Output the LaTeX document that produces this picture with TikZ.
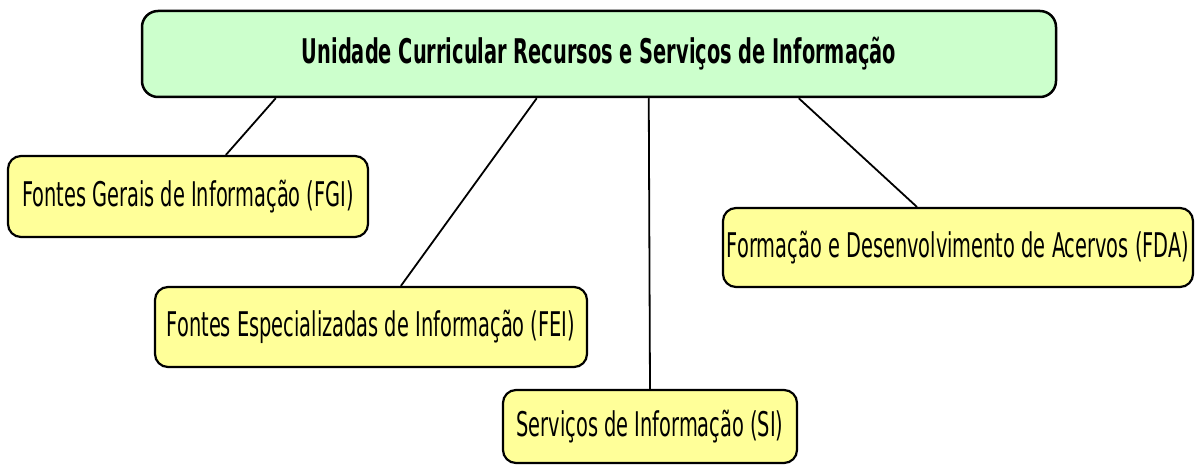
\documentclass[tikz,border=0pt]{standalone}
\usepackage{fontspec}
\newfontfamily\cond[FakeStretch=0.57]{DejaVu Sans}
\newfontfamily\condB[FakeStretch=0.57]{DejaVu Sans Bold}
\usetikzlibrary{calc}
\definecolor{topgreen}{RGB}{204,255,204}
\definecolor{boxyellow}{RGB}{255,255,153}
\tikzset{
  topbox/.style={draw=black, line width=2.5pt, fill=topgreen, rounded corners=16pt,
    minimum width=914pt, minimum height=86pt, inner sep=0pt,
    font=\condB\fontsize{34}{38}\selectfont},
  leafbox/.style={draw=black, line width=2.2pt, fill=boxyellow, rounded corners=13pt,
    inner sep=0pt, font=\cond\fontsize{34}{38}\selectfont},
  link/.style={draw=black, line width=1.8pt}
}
\begin{document}
\begin{tikzpicture}[x=1pt,y=-1pt]
\useasboundingbox (0,0) rectangle (1195,465);
\node[topbox] (top) at (599,54) {Unidade Curricular Recursos e Serviços de Informação};
\node[leafbox, minimum width=360pt, minimum height=81pt] (fgi) at (188,196.5) {Fontes Gerais de Informação (FGI)};
\node[leafbox, minimum width=432pt, minimum height=80pt] (fei) at (371,327) {Fontes Especializadas de Informação (FEI)};
\node[leafbox, minimum width=294pt, minimum height=73pt] (si) at (650,426.5) {Serviços de Informação (SI)};
\node[leafbox, minimum width=470pt, minimum height=79pt] (fda) at (958,247.5) {Formação e Desenvolvimento de Acervos (FDA)};
\draw[link] ([xshift=135pt]top.south west) -- ([xshift=219pt]fgi.north west);
\draw[link] ([xshift=396pt]top.south west) -- ([xshift=247pt]fei.north west);
\draw[link] ([xshift=508pt]top.south west) -- (si.north);
\draw[link] ([xshift=658pt]top.south west) -- ([xshift=195pt]fda.north west);
\end{tikzpicture}
\end{document}
